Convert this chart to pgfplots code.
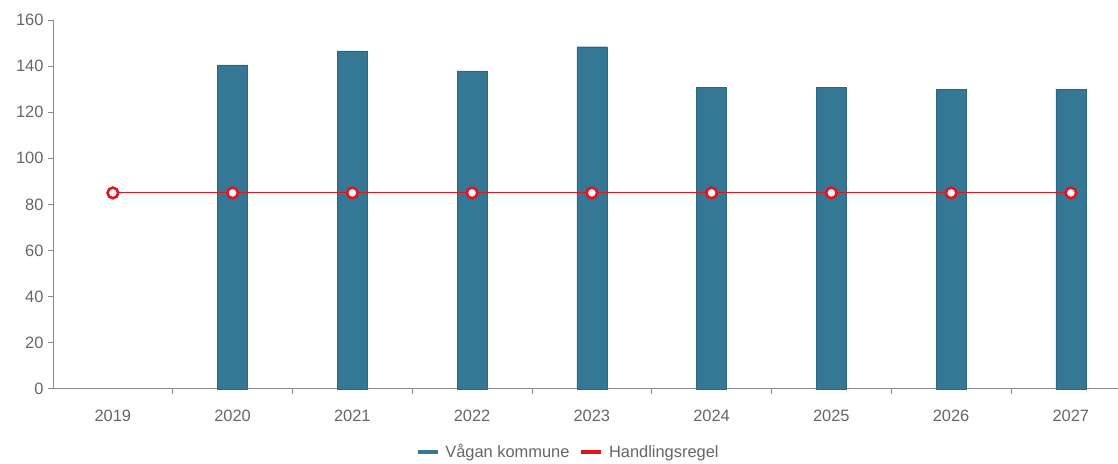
\documentclass[border=0pt]{standalone}
\usepackage{fontspec}
\setmainfont{Liberation Sans}
\usepackage{pgfplots}
\pgfplotsset{compat=1.18}
\definecolor{barblue}{HTML}{347895}
\definecolor{linered}{HTML}{E3141C}
\definecolor{txtgray}{HTML}{666666}
\definecolor{axgray}{HTML}{8A8A8A}
\begin{document}
\begin{tikzpicture}[x=1bp,y=1bp]
\begin{axis}[
  name=ax,
  scale only axis,
  width=1065bp, height=369bp,
  xmin=-0.5, xmax=8.39,
  ymin=0, ymax=160,
  axis lines=left,
  axis line style={-, axgray, line width=0.9pt},
  xtick={0,...,8},
  xticklabels={2019,2020,2021,2022,2023,2024,2025,2026,2027},
  major x tick style={draw=none},
  minor xtick={0.5,1.5,...,7.5},
  minor tick length=5bp,
  minor x tick style={axgray, line width=0.8pt},
  ytick={0,20,...,160},
  major tick length=5bp,
  y tick style={axgray, line width=0.8pt},
  tick align=outside,
  tick label style={font=\fontsize{16.5}{18}\selectfont, text=txtgray},
  /pgf/number format/assume math mode=true,
  xticklabel style={yshift=-13bp},
  yticklabel style={xshift=-1bp},
  legend style={at={(axis description cs:0.484,-0.171)}, anchor=center,
    draw=none, legend columns=2, font=\fontsize{16.5}{18}\selectfont,
    text=txtgray, column sep=4bp,
    /tikz/every even column/.append style={column sep=8bp}},
  legend cell align=left,
  clip=false,
]
\addplot[ybar, bar width=30bp, fill=barblue, draw=barblue!85!black, line width=0.4pt,
  legend image code/.code={\draw[barblue, line width=3.5pt] (0bp,0bp) -- (20bp,0bp);}]
  coordinates {(1,140.5) (2,146.6) (3,137.9) (4,148.4) (5,130.7) (6,130.7) (7,130.0) (8,130.0)};
\addlegendentry{Vågan kommune}
\addplot[linered, line width=1pt, mark=*, mark size=5.3bp,
  mark options={fill=white, draw=linered, line width=2.6pt},
  legend image code/.code={\draw[linered, line width=3.5pt] (0bp,0bp) -- (20bp,0bp);}]
  coordinates {(0,85) (1,85) (2,85) (3,85) (4,85) (5,85) (6,85) (7,85) (8,85)};
\addlegendentry{Handlingsregel}
\end{axis}
\path[use as bounding box] ([xshift=-53bp,yshift=-72bp]ax.south west) rectangle ([yshift=20bp]ax.north east);
\end{tikzpicture}
\end{document}
